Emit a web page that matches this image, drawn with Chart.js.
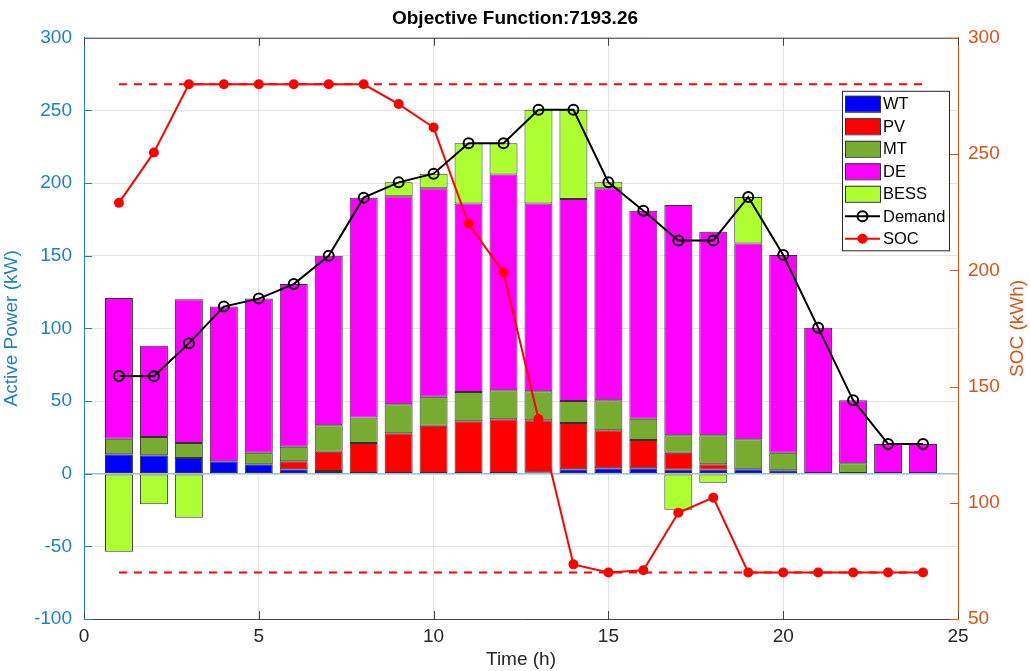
<!DOCTYPE html>
<html>
<head>
<meta charset="utf-8">
<script src="https://cdn.jsdelivr.net/npm/chart.js@4.4.1/dist/chart.umd.min.js"></script>
<style>
  html, body { margin: 0; padding: 0; background: #fff; }
  #wrap { width: 1030px; height: 671px; }
</style>
</head>
<body>
<div id="wrap"><canvas id="chart" width="1030" height="671"></canvas></div>
<script>
const hours = [1,2,3,4,5,6,7,8,9,10,11,12,13,14,15,16,17,18,19,20,21,22,23,24];

const wt   = [13.4,12.7,10.8,8.5,6.5,3,1.9,0,0,0,0,0,1,3,3.7,3.7,2.8,2.8,3,2.3,0.5,0,0,0];
const pv   = [0,0,0,0,0,5.5,13.2,21.1,27.8,33,36.1,37.5,35.8,31.9,26.2,19.5,11.7,3.7,0,0,0,0,0,0];
const mt   = [10.7,12.6,10.3,0,8,10.1,18.2,17.5,20,20,20.1,19.9,19.9,15.2,20.6,14.7,11.9,19.9,20.7,12.2,0,7.2,0,0];
const de   = [96.9,62.7,98.9,106.5,106,111.9,116.7,151.4,143.2,143.5,129.8,148.6,129.3,138.9,146,143.1,158.6,140.1,134.8,136,100,43.3,20.5,20.5];
const bess = [-53.7,-21.1,-30.3,0,0,0,0,0,9.5,10,41.5,21.5,64.5,61.5,4,0,-24.8,-6.2,32,0,0,0,0,0];

const demand = [67.3,67,89.7,115,120.5,130.5,150,190,200.5,206.5,227.5,227.5,250.5,250.5,200.5,181,160.5,160.5,190.5,150.5,100.5,50.5,20.5,20.5];
const soc    = [229,250.7,280,280,280,280,280,280,271.5,261.4,220,199,136,73.5,70,71,95.7,102.2,70,70,70,70,70,70];
const socMax = 280;
const socMin = 70;

const leftColor = "#1f7fc4";
const rightColor = "#D95319";
const font = "'Liberation Sans', Arial, sans-serif";

function pts(arr) {
  return hours.map((h, i) => ({ x: h, y: arr[i] }));
}

function barSet(label, arr, color) {
  return {
    type: "bar",
    label,
    data: pts(arr),
    backgroundColor: color,
    borderColor: "#333333",
    borderWidth: 1,
    borderSkipped: false,
    categoryPercentage: 0.8,
    barPercentage: 1,
    yAxisID: "y",
    order: 2
  };
}

// legend box inside the plot, top right (like the MATLAB one)
const boxLegend = {
  id: "boxLegend",
  afterDraw(chart) {
    const ctx = chart.ctx;
    const a = chart.chartArea;
    const ds = chart.data.datasets.filter(d => d.label);
    const items = ds.filter(d => d.type === "bar").concat(ds.filter(d => d.type !== "bar"));
    const x0 = a.right - 116, y0 = a.top + 53, w = 107, step = 22.5;
    const h = items.length * step + 2;
    ctx.save();
    ctx.fillStyle = "#fff";
    ctx.strokeStyle = "#262626";
    ctx.lineWidth = 1;
    ctx.fillRect(x0, y0, w, h);
    ctx.strokeRect(x0 + 0.5, y0 + 0.5, w, h);
    ctx.font = "16.5px " + font;
    ctx.textBaseline = "middle";
    items.forEach((d, i) => {
      const cy = y0 + 13 + i * step;
      if (d.type === "bar") {
        ctx.fillStyle = d.backgroundColor;
        ctx.fillRect(x0 + 3, cy - 8, 35, 16);
        ctx.strokeStyle = "#333";
        ctx.strokeRect(x0 + 3.5, cy - 7.5, 35, 16);
      } else {
        ctx.strokeStyle = d.borderColor;
        ctx.lineWidth = 2;
        ctx.beginPath();
        ctx.moveTo(x0 + 3, cy);
        ctx.lineTo(x0 + 38, cy);
        ctx.stroke();
        ctx.beginPath();
        ctx.arc(x0 + 20.5, cy, d.pointRadius, 0, Math.PI * 2);
        if (d.pointBackgroundColor !== "rgba(0,0,0,0)") {
          ctx.fillStyle = d.pointBackgroundColor;
          ctx.fill();
        }
        ctx.stroke();
        ctx.lineWidth = 1;
      }
      ctx.fillStyle = "#000";
      ctx.fillText(d.label, x0 + 41, cy + 1);
    });
    ctx.restore();
  }
};

// box, inward ticks, right axis title read bottom-to-top
const frame = {
  id: "frame",
  afterDatasetsDraw(chart) {
    const ctx = chart.ctx;
    const a = chart.chartArea;
    const { x, y, y2 } = chart.scales;
    ctx.save();
    ctx.lineWidth = 1;
    ctx.strokeStyle = "#444";
    ctx.beginPath();
    ctx.moveTo(a.left, a.top + 0.5);
    ctx.lineTo(a.right, a.top + 0.5);
    x.ticks.forEach(t => {
      const px = Math.round(x.getPixelForValue(t.value)) + 0.5;
      ctx.moveTo(px, a.bottom);
      ctx.lineTo(px, a.bottom - 8);
      ctx.moveTo(px, a.top);
      ctx.lineTo(px, a.top + 8);
    });
    ctx.stroke();
    ctx.strokeStyle = leftColor;
    ctx.beginPath();
    y.ticks.forEach(t => {
      const py = Math.round(y.getPixelForValue(t.value)) + 0.5;
      ctx.moveTo(a.left, py);
      ctx.lineTo(a.left + 8, py);
    });
    ctx.stroke();
    ctx.strokeStyle = rightColor;
    ctx.beginPath();
    y2.ticks.forEach(t => {
      const py = Math.round(y2.getPixelForValue(t.value)) + 0.5;
      ctx.moveTo(a.right, py);
      ctx.lineTo(a.right - 8, py);
    });
    ctx.stroke();

    ctx.translate(y2.right - 12, (a.top + a.bottom) / 2);
    ctx.rotate(-Math.PI / 2);
    ctx.fillStyle = rightColor;
    ctx.font = "19px " + font;
    ctx.textAlign = "center";
    ctx.textBaseline = "middle";
    ctx.fillText("SOC (kWh)", 0, 0);
    ctx.restore();
  }
};

const ctx = document.getElementById("chart").getContext("2d");

new Chart(ctx, {
  data: {
    datasets: [
      {
        type: "line",
        label: "Demand",
        data: pts(demand),
        borderColor: "#000",
        borderWidth: 2,
        pointRadius: 5,
        pointBorderWidth: 2,
        pointBackgroundColor: "rgba(0,0,0,0)",
        pointBorderColor: "#000",
        yAxisID: "y",
        stack: "demand",
        order: 0
      },
      {
        type: "line",
        label: "SOC",
        data: pts(soc),
        borderColor: "#ff0000",
        borderWidth: 2,
        pointRadius: 4,
        pointBackgroundColor: "#ff0000",
        pointBorderColor: "#ff0000",
        yAxisID: "y2",
        order: 0
      },
      {
        type: "line",
        label: "",
        data: hours.map(h => ({ x: h, y: socMax })),
        borderColor: "#ff0000",
        borderWidth: 2,
        borderDash: [8, 7],
        pointRadius: 0,
        yAxisID: "y2",
        order: 1
      },
      {
        type: "line",
        label: "",
        data: hours.map(h => ({ x: h, y: socMin })),
        borderColor: "#ff0000",
        borderWidth: 2,
        borderDash: [8, 7],
        pointRadius: 0,
        yAxisID: "y2",
        order: 1
      },
      barSet("WT", wt, "#0000ff"),
      barSet("PV", pv, "#ff0000"),
      barSet("MT", mt, "#77ac30"),
      barSet("DE", de, "#ff00ff"),
      barSet("BESS", bess, "#adff2f")
    ]
  },
  options: {
    responsive: false,
    animation: false,
    layout: { padding: 0 },
    plugins: {
      legend: { display: false },
      tooltip: { enabled: false },
      title: {
        display: true,
        text: "Objective Function:7193.26",
        color: "#000",
        font: { family: font, size: 19, weight: "bold" },
        padding: { top: 7, bottom: 8 }
      }
    },
    scales: {
      x: {
        type: "linear",
        min: 0,
        max: 25,
        stacked: true,
        offset: false,
        ticks: { stepSize: 5, color: "#262626", font: { family: font, size: 19 }, padding: 6 },
        grid: { color: "#e3e3e3", drawTicks: false, offset: false },
        border: { color: "#444", width: 1 },
        title: { display: true, text: "Time (h)", color: "#262626", font: { family: font, size: 19 }, padding: { top: 0, bottom: 0 } },
        afterFit(scale) { scale.height = 52; }
      },
      y: {
        position: "left",
        min: -100,
        max: 300,
        stacked: true,
        ticks: { stepSize: 50, color: leftColor, font: { family: font, size: 19 }, padding: 12 },
        grid: {
          drawTicks: false,
          color: c => (c.tick && c.tick.value === 0 ? "#94bfdf" : "#e3e3e3"),
          lineWidth: c => (c.tick && c.tick.value === 0 ? 1.5 : 1)
        },
        border: { color: leftColor, width: 1 },
        title: { display: true, text: "Active Power (kW)", color: leftColor, font: { family: font, size: 19 }, padding: { top: 0, bottom: 0 } },
        afterFit(scale) { scale.width = 84; }
      },
      y2: {
        position: "right",
        min: 50,
        max: 300,
        ticks: { stepSize: 50, color: rightColor, font: { family: font, size: 19 }, padding: 10 },
        grid: { drawOnChartArea: false, drawTicks: false },
        border: { color: rightColor, width: 1 },
        afterFit(scale) { scale.width = 72; }
      }
    }
  },
  plugins: [frame, boxLegend]
});
</script>
</body>
</html>
